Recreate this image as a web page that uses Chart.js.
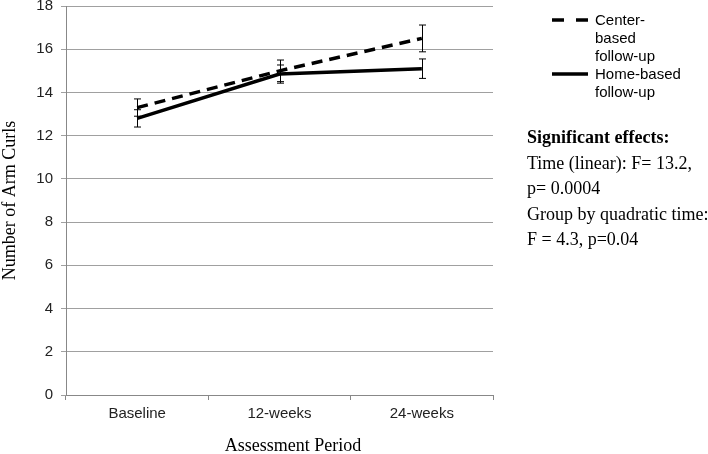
<!DOCTYPE html>
<html>
<head>
<meta charset="utf-8">
<script src="https://cdn.jsdelivr.net/npm/chart.js@4"></script>
<style>
  body { margin: 0; background: #fff; }
  #wrap { position: relative; width: 708px; height: 454px; }
  .legend { position: absolute; left: 552px; font-family: "Liberation Sans", Arial, sans-serif; font-size: 15px; line-height: 18px; color: #000; }
  .legend .row { position: relative; padding-left: 43px; }
  .legend svg { position: absolute; left: 0; top: 0; }
  .notes { position: absolute; left: 527px; top: 125px; font-family: "Liberation Serif", "Times New Roman", serif; font-size: 18px; line-height: 25.5px; color: #000; white-space: nowrap; }
  .xtitle { position: absolute; left: 0; width: 586px; top: 435px; text-align: center; font-family: "Liberation Serif", "Times New Roman", serif; font-size: 18px; line-height: 20px; color: #000; }
</style>
</head>
<body>
<div id="wrap">
  <canvas id="chart" width="708" height="454"></canvas>
  <div class="legend" style="top:11px">
    <div class="row"><svg width="36" height="18"><line x1="0" y1="9" x2="36" y2="9" stroke="#000" stroke-width="3.5" stroke-dasharray="12,12"/></svg>Center-<br>based<br>follow-up</div>
    <div class="row"><svg width="36" height="18"><line x1="0" y1="9" x2="36" y2="9" stroke="#000" stroke-width="3.5"/></svg>Home-based<br>follow-up</div>
  </div>
  <div class="notes">
    <b>Significant effects:</b><br>
    Time (linear): F= 13.2,<br>
    p= 0.0004<br>
    Group by quadratic time:<br>
    F = 4.3, p=0.04
  </div>
  <div class="xtitle">Assessment Period</div>
</div>
<script>
  // Data
  const periods = ['Baseline', '12-weeks', '24-weeks'];
  const centerMean = [13.3, 15.0, 16.5];
  const centerErr = [0.4, 0.5, 0.62];
  const homeMean = [12.8, 14.85, 15.1];
  const homeErr = [0.4, 0.42, 0.45];

  const errors = [centerErr, homeErr];

  // simple error bars, drawn through the y scale
  const errorBars = {
    id: 'errorBars',
    afterDatasetsDraw(chart) {
      const ctx = chart.ctx;
      const y = chart.scales.y;
      ctx.save();
      ctx.strokeStyle = '#000';
      ctx.lineWidth = 1;
      chart.data.datasets.forEach((ds, di) => {
        const meta = chart.getDatasetMeta(di);
        meta.data.forEach((pt, i) => {
          const top = y.getPixelForValue(ds.data[i] + errors[di][i]);
          const bot = y.getPixelForValue(ds.data[i] - errors[di][i]);
          const x = Math.round(pt.x) + 0.5;
          ctx.beginPath();
          ctx.moveTo(x, top); ctx.lineTo(x, bot);
          ctx.moveTo(x - 3.5, top); ctx.lineTo(x + 3.5, top);
          ctx.moveTo(x - 3.5, bot); ctx.lineTo(x + 3.5, bot);
          ctx.stroke();
        });
      });
      ctx.restore();
    }
  };

  const tickFont = { family: '"Liberation Sans", Arial, sans-serif', size: 15 };
  const titleFont = { family: '"Liberation Serif", "Times New Roman", serif', size: 18, lineHeight: 1 };

  new Chart(document.getElementById('chart'), {
    type: 'line',
    data: {
      labels: periods,
      datasets: [
        { label: 'Center-based follow-up', data: centerMean, borderColor: '#000', borderWidth: 3.5, borderDash: [11, 7], pointRadius: 0, tension: 0 },
        { label: 'Home-based follow-up', data: homeMean, borderColor: '#000', borderWidth: 3.5, pointRadius: 0, tension: 0 }
      ]
    },
    options: {
      responsive: false,
      animation: false,
      layout: { padding: { top: 6, right: 215, bottom: 0, left: 0 } },
      plugins: { legend: { display: false }, tooltip: { enabled: false } },
      scales: {
        x: {
          offset: true,
          grid: { offset: true, drawOnChartArea: false, drawTicks: true, tickLength: 5, color: '#888' },
          border: { color: '#888' },
          ticks: { font: tickFont, color: '#222', padding: 5, maxRotation: 0 },
          afterFit: s => { s.height = 59; s.paddingLeft = 0; s.paddingRight = 0; }
        },
        y: {
          min: 0, max: 18,
          ticks: { stepSize: 2, font: tickFont, color: '#222', padding: 8 },
          grid: { color: '#a0a0a0', tickLength: 5 },
          border: { color: '#888' },
          title: { display: true, text: 'Number of Arm Curls', font: titleFont, color: '#000', padding: { top: 1, bottom: 0 } },
          afterFit: s => { s.width = 66; s.paddingTop = 0; s.paddingBottom = 0; }
        }
      }
    },
    plugins: [errorBars]
  });
</script>
</body>
</html>
